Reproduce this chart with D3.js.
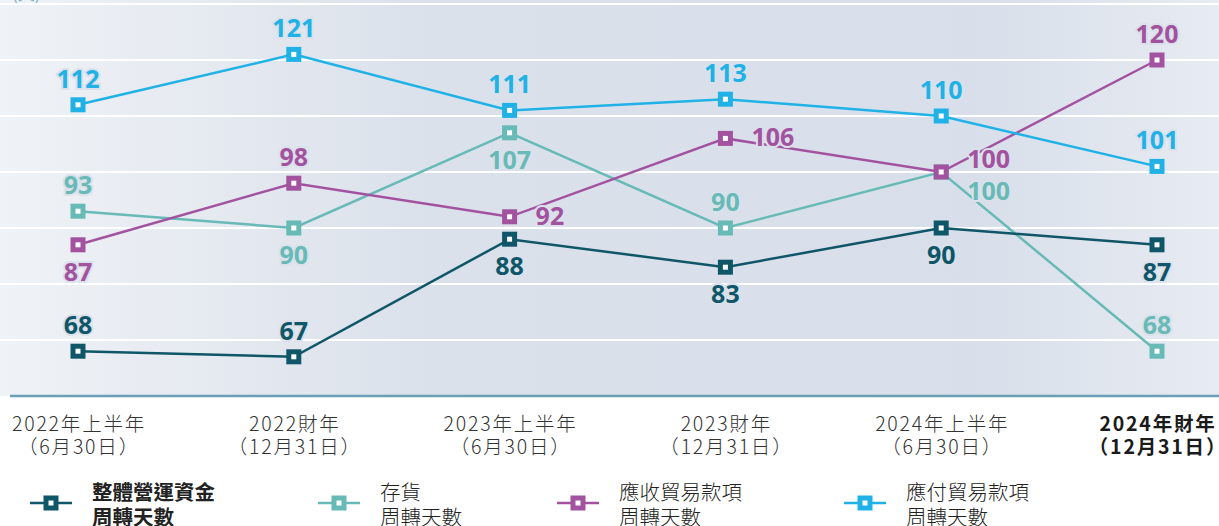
<!DOCTYPE html>
<html>
<head>
<meta charset="utf-8">
<script src="https://cdn.jsdelivr.net/npm/d3@7"></script>
<style>
  body { margin: 0; background: #fff; }
  svg { display: block; }
</style>
</head>
<body>
<div id="chart"></div>
<script>
const width = 1219, height = 526;

// data
const periods = ["2022H1", "2022FY", "2023H1", "2023FY", "2024H1", "2024FY"];
const periodLine1 = ["2022年上半年", "2022財年", "2023年上半年", "2023財年", "2024年上半年", "2024年財年"];
const periodLine2 = ["（6月30日）", "（12月31日）", "（6月30日）", "（12月31日）", "（6月30日）", "（12月31日）"];

const workingCapitalDays = [68, 67, 88, 83, 90, 87];
const inventoryDays = [93, 90, 107, 90, 100, 68];
const receivableDays = [87, 98, 92, 106, 100, 120];
const payableDays = [112, 121, 111, 113, 110, 101];

const yTicks = [70, 80, 90, 100, 110, 120, 130];

// where each value label sits
const workingCapitalPos = ["above", "above", "below", "below", "below", "below"];
const inventoryPos = ["above", "below", "below", "above", "rightBelow", "above"];
const receivablePos = ["below", "above", "right", "right", "rightUp", "above"];
const payablePos = ["above", "above", "above", "above", "above", "above"];

const series = [
  { name: ["存貨", "周轉天數"], values: inventoryDays, pos: inventoryPos, color: "#67bab6", bold: false, lx: 339 },
  { name: ["整體營運資金", "周轉天數"], values: workingCapitalDays, pos: workingCapitalPos, color: "#0f5668", bold: true, lx: 51 },
  { name: ["應收貿易款項", "周轉天數"], values: receivableDays, pos: receivablePos, color: "#a2529f", bold: false, lx: 578 },
  { name: ["應付貿易款項", "周轉天數"], values: payableDays, pos: payablePos, color: "#20b2e7", bold: false, lx: 865 }
];

const svg = d3.select("#chart").append("svg")
  .attr("width", width)
  .attr("height", height);

const x = d3.scalePoint().domain(periods).range([78, 1157]);
const y = d3.scaleLinear().domain([60, 130]).range([396, 4]);

// background gradient
const defs = svg.append("defs");
const grad = defs.append("linearGradient").attr("id", "bg")
  .attr("x1", "0%").attr("x2", "100%").attr("y1", "0%").attr("y2", "0%");
grad.append("stop").attr("offset", "0%").attr("stop-color", "#eff2f6");
grad.append("stop").attr("offset", "35%").attr("stop-color", "#dbe1eb");
grad.append("stop").attr("offset", "80%").attr("stop-color", "#d8dfea");
grad.append("stop").attr("offset", "100%").attr("stop-color", "#e7ebf2");

svg.append("rect")
  .attr("x", 0).attr("y", 0)
  .attr("width", width).attr("height", y(60))
  .attr("fill", "url(#bg)");

// gridlines
svg.append("g")
  .selectAll("line")
  .data(yTicks)
  .join("line")
  .attr("x1", 0).attr("x2", width)
  .attr("y1", d => y(d)).attr("y2", d => y(d))
  .attr("stroke", "#ffffff")
  .attr("stroke-width", 2);

// unit
svg.append("text")
  .attr("x", 12).attr("y", 0)
  .attr("font-family", "'Noto Sans CJK TC', sans-serif")
  .attr("font-size", 17)
  .attr("fill", "#7fb3c6")
  .text("(天)");

// x axis
const xAxis = svg.append("g")
  .attr("transform", `translate(0,${y(60)})`)
  .call(d3.axisBottom(x).tickSize(0).tickFormat(""));
xAxis.select(".domain")
  .attr("d", `M10,0H${width}`)
  .attr("stroke", "#6aa0b6")
  .attr("stroke-width", 2.5);

const xLabels = svg.append("g")
  .selectAll("text")
  .data(periods)
  .join("text")
  .attr("x", d => x(d))
  .attr("text-anchor", "middle")
  .attr("font-family", "'Noto Sans CJK TC', sans-serif")
  .attr("font-size", 19.5)
  .attr("letter-spacing", 1.8)
  .attr("font-weight", (d, i) => i === periods.length - 1 ? 700 : 300)
  .attr("fill", (d, i) => i === periods.length - 1 ? "#1a1a1a" : "#333");
xLabels.append("tspan").attr("x", d => x(d) + 1).attr("y", 431)
  .text((d, i) => periodLine1[i]);
xLabels.append("tspan").attr("x", d => x(d) + 1).attr("y", 454)
  .text((d, i) => periodLine2[i]);

// lines and markers
const line = d3.line()
  .x((d, i) => x(periods[i]))
  .y(d => y(d));

series.forEach(s => {
  const g = svg.append("g");
  g.append("path")
    .datum(s.values)
    .attr("d", line)
    .attr("fill", "none")
    .attr("stroke", s.color)
    .attr("stroke-width", 2.5);

  g.selectAll("rect")
    .data(s.values)
    .join("rect")
    .attr("x", (d, i) => x(periods[i]) - 5)
    .attr("y", d => y(d) - 5)
    .attr("width", 10)
    .attr("height", 10)
    .attr("fill", "#fff")
    .attr("stroke", s.color)
    .attr("stroke-width", 5);
});

// value labels drawn after all lines, with halo
const offsets = {
  above: { dx: 0, dy: -17, anchor: "middle" },
  below: { dx: 0, dy: 36, anchor: "middle" },
  right: { dx: 26, dy: 8, anchor: "start" },
  rightUp: { dx: 26, dy: -4, anchor: "start" },
  rightBelow: { dx: 26, dy: 28, anchor: "start" }
};

series.forEach(s => {
  svg.append("g")
    .selectAll("text")
    .data(s.values)
    .join("text")
    .attr("x", (d, i) => x(periods[i]) + offsets[s.pos[i]].dx)
    .attr("y", (d, i) => y(d) + offsets[s.pos[i]].dy)
    .attr("text-anchor", (d, i) => offsets[s.pos[i]].anchor)
    .attr("font-family", "'Open Sans', sans-serif")
    .attr("font-weight", 700)
    .attr("font-size", 25)
    .attr("fill", s.color)
    .attr("stroke", "#dbe1eb")
    .attr("stroke-width", 4)
    .attr("paint-order", "stroke")
    .text(d => d);
});

// legend
const legendOrder = [series[1], series[0], series[2], series[3]];
const legend = svg.append("g")
  .selectAll("g")
  .data(legendOrder)
  .join("g")
  .attr("transform", d => `translate(${d.lx},503)`);

legend.append("line")
  .attr("x1", -21).attr("x2", 21)
  .attr("stroke", d => d.color)
  .attr("stroke-width", 2.5);
legend.append("rect")
  .attr("x", -5).attr("y", -5)
  .attr("width", 10).attr("height", 10)
  .attr("fill", "#fff")
  .attr("stroke", d => d.color)
  .attr("stroke-width", 5);

const legText = legend.append("text")
  .attr("font-family", "'Noto Sans CJK TC', sans-serif")
  .attr("font-size", 20.5)
  .attr("font-weight", d => d.bold ? 700 : 300)
  .attr("fill", "#222");
legText.append("tspan").attr("x", 41).attr("y", -3).text(d => d.name[0]);
legText.append("tspan").attr("x", 41).attr("y", 22).text(d => d.name[1]);
</script>
</body>
</html>
